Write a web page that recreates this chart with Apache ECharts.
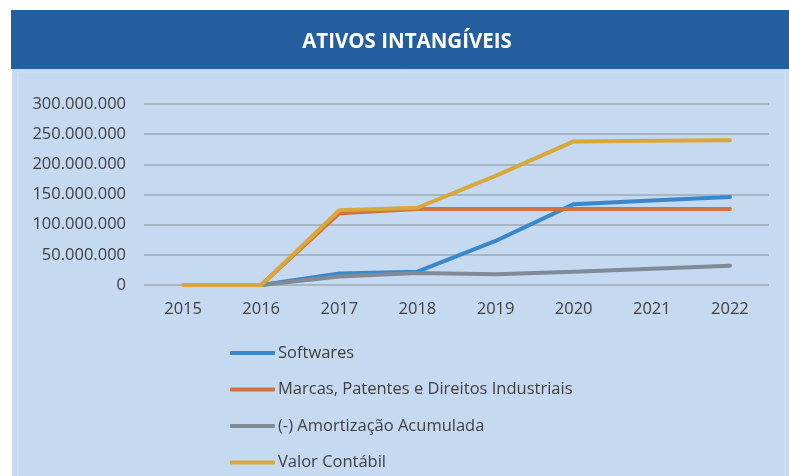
<!DOCTYPE html>
<html>
<head>
<meta charset="utf-8">
<script src="https://cdn.jsdelivr.net/npm/echarts@6/dist/echarts.min.js"></script>
<style>
  html, body { margin: 0; padding: 0; background: #ffffff; }
  #chart { width: 789px; height: 476px; }
</style>
</head>
<body>
<div id="chart"></div>
<script>
// dados
const years = ["2015", "2016", "2017", "2018", "2019", "2020", "2021", "2022"];
const softwares = [null, 0, 19000000, 22000000, 73000000, 134000000, 140000000, 146000000];
const marcas = [null, 0, 119000000, 126000000, 126000000, 126000000, 126000000, 126000000];
const amortizacao = [null, 0, 14000000, 20000000, 18000000, 22000000, 27000000, 32000000];
const valorContabil = [0, 0, 124000000, 128000000, 181000000, 238000000, 239000000, 240000000];
const yTicks = [0, 50000000, 100000000, 150000000, 200000000, 250000000, 300000000];

const textColor = "#404040";
const fontFam = "'Open Sans', 'Noto Sans', sans-serif";

const fmt = (v) => v === 0 ? "0" : String(v).replace(/\B(?=(\d{3})+(?!\d))/g, ".");

const chart = echarts.init(document.getElementById("chart"));

const mkSeries = (name, data, color) => ({
  name: name,
  type: "line",
  data: data,
  symbol: "none",
  lineStyle: { width: 4, color: color, cap: "round", join: "round" },
  itemStyle: { color: color },
});

const option = {
  backgroundColor: "#ffffff",
  animation: false,
  graphic: [
    { type: "rect", z: -10, shape: { x: 11, y: 10, width: 778, height: 59 }, style: { fill: "#255e9f" } },
    { type: "rect", z: -10, shape: { x: 12, y: 69, width: 777, height: 407 }, style: { fill: "#c5d9f0" } },
    { type: "rect", z: -9, shape: { x: 18, y: 72, width: 767, height: 410 }, style: { fill: "none", stroke: "#d3e2f4", lineWidth: 1 } },
  ],
  title: {
    text: "ATIVOS INTANGÍVEIS",
    left: 402,
    textAlign: "center",
    top: 27,
    textStyle: { color: "#ffffff", fontSize: 20.5, fontWeight: "bold", fontFamily: fontFam },
  },
  grid: { left: 144, right: 20, top: 104, height: 181 },
  xAxis: {
    type: "category",
    data: years,
    boundaryGap: true,
    axisLine: { show: false },
    axisTick: { show: false },
    axisLabel: { color: textColor, fontSize: 16.5, fontFamily: fontFam, margin: 16 },
  },
  yAxis: {
    type: "value",
    min: yTicks[0],
    max: yTicks[yTicks.length - 1],
    interval: yTicks[1] - yTicks[0],
    axisLine: { show: false },
    axisTick: { show: false },
    splitLine: { lineStyle: { color: "#a8b6c4", width: 2 } },
    axisLabel: { color: textColor, fontSize: 16.5, fontFamily: fontFam, margin: 18, formatter: fmt },
  },
  legend: {
    orient: "vertical",
    left: 230,
    top: 343,
    height: 300,
    padding: 0,
    itemWidth: 45,
    itemHeight: 4,
    itemGap: 16.5,
    icon: "roundRect",
    textStyle: { color: textColor, fontSize: 16.5, lineHeight: 20, fontFamily: fontFam, padding: [0, 0, 0, -2] },
    data: ["Softwares", "Marcas, Patentes e Direitos Industriais", "(-) Amortização Acumulada", "Valor Contábil"],
  },
  series: [
    mkSeries("Softwares", softwares, "#3a88cb"),
    mkSeries("Marcas, Patentes e Direitos Industriais", marcas, "#d0733e"),
    mkSeries("(-) Amortização Acumulada", amortizacao, "#7f8b96"),
    mkSeries("Valor Contábil", valorContabil, "#d8a93a"),
  ],
};

chart.setOption(option);
</script>
</body>
</html>
